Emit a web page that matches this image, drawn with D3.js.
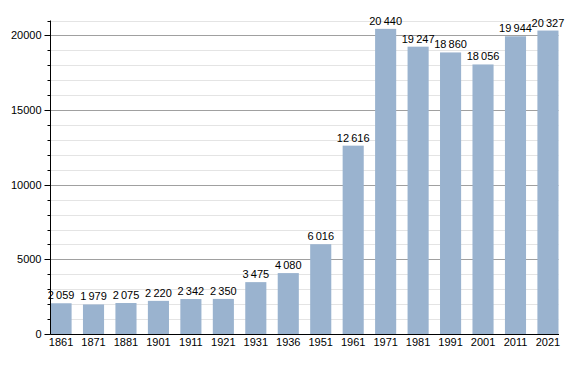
<!DOCTYPE html>
<html>
<head>
<meta charset="utf-8">
<script src="https://cdn.jsdelivr.net/npm/d3@7"></script>
<style>
  body { margin: 0; background: #fff; }
  text { font-family: "Liberation Sans", Arial, sans-serif; font-size: 11px; fill: #000; }
</style>
</head>
<body>
<svg id="chart" width="588" height="373"></svg>
<script>
// census years and population
const years = ["1861", "1871", "1881", "1901", "1911", "1921", "1931", "1936", "1951", "1961", "1971", "1981", "1991", "2001", "2011", "2021"];
const population = [2059, 1979, 2075, 2220, 2342, 2350, 3475, 4080, 6016, 12616, 20440, 19247, 18860, 18056, 19944, 20327];
const majorTicks = [0, 5000, 10000, 15000, 20000];
const minorTicks = d3.range(0, 21001, 1000);

const svg = d3.select("#chart");
const LEFT = 50.5, RIGHT = 558.5, BOTTOM = 334, TOP = 20.5;

const x = d3.scaleBand().domain(years).range([LEFT, RIGHT]).paddingInner(0.35).paddingOuter(0);
const y = d3.scaleLinear().domain([0, 21000]).range([BOTTOM, TOP]);

// thin-space thousands like the original
const fmt = v => v >= 1000 ? d3.format(",")(v).replace(",", "\u2009") : String(v);

// minor grid
svg.append("g").selectAll("line")
  .data(minorTicks.filter(t => t % 5000 !== 0))
  .join("line")
  .attr("x1", LEFT).attr("x2", RIGHT)
  .attr("y1", d => Math.round(y(d)) + 0.5).attr("y2", d => Math.round(y(d)) + 0.5)
  .attr("stroke", "#e4e4e4");

// major grid
svg.append("g").selectAll("line")
  .data(majorTicks.filter(t => t > 0))
  .join("line")
  .attr("x1", LEFT).attr("x2", RIGHT)
  .attr("y1", d => Math.round(y(d)) + 0.5).attr("y2", d => Math.round(y(d)) + 0.5)
  .attr("stroke", "#a0a0a0");

// bars
svg.append("g").selectAll("rect")
  .data(years)
  .join("rect")
  .attr("x", d => x(d))
  .attr("width", x.bandwidth())
  .attr("y", (d, i) => y(population[i]))
  .attr("height", (d, i) => BOTTOM - y(population[i]))
  .attr("fill", "#9ab3cf");

// value labels
svg.append("g").selectAll("text")
  .data(years)
  .join("text")
  .attr("x", d => x(d) + x.bandwidth() / 2)
  .attr("y", (d, i) => y(population[i]) - 4)
  .attr("text-anchor", "middle")
  .text((d, i) => fmt(population[i]));

// y axis with major and minor ticks
const yAxis = svg.append("g").attr("transform", `translate(${LEFT},0)`);
yAxis.append("line").attr("x1", 0).attr("x2", 0).attr("y1", TOP).attr("y2", BOTTOM).attr("stroke", "#000");
yAxis.selectAll(".minor").data(minorTicks).join("line")
  .attr("x1", -3).attr("x2", 0)
  .attr("y1", d => Math.round(y(d)) + 0.5).attr("y2", d => Math.round(y(d)) + 0.5)
  .attr("stroke", "#000");
yAxis.selectAll(".major").data(majorTicks).join("line")
  .attr("x1", -6).attr("x2", 0)
  .attr("y1", d => Math.round(y(d)) + 0.5).attr("y2", d => Math.round(y(d)) + 0.5)
  .attr("stroke", "#000");
yAxis.selectAll("text").data(majorTicks).join("text")
  .attr("x", -9).attr("y", d => y(d)).attr("dy", "0.35em")
  .attr("text-anchor", "end")
  .text(d => d);

// x axis
const xAxis = svg.append("g").attr("transform", `translate(0,${BOTTOM})`);
xAxis.append("line").attr("x1", LEFT).attr("x2", RIGHT + 0.5).attr("y1", 0.5).attr("y2", 0.5).attr("stroke", "#000");
xAxis.selectAll("text").data(years).join("text")
  .attr("x", d => x(d) + x.bandwidth() / 2).attr("y", 12)
  .attr("text-anchor", "middle")
  .text(d => d);
</script>
</body>
</html>
